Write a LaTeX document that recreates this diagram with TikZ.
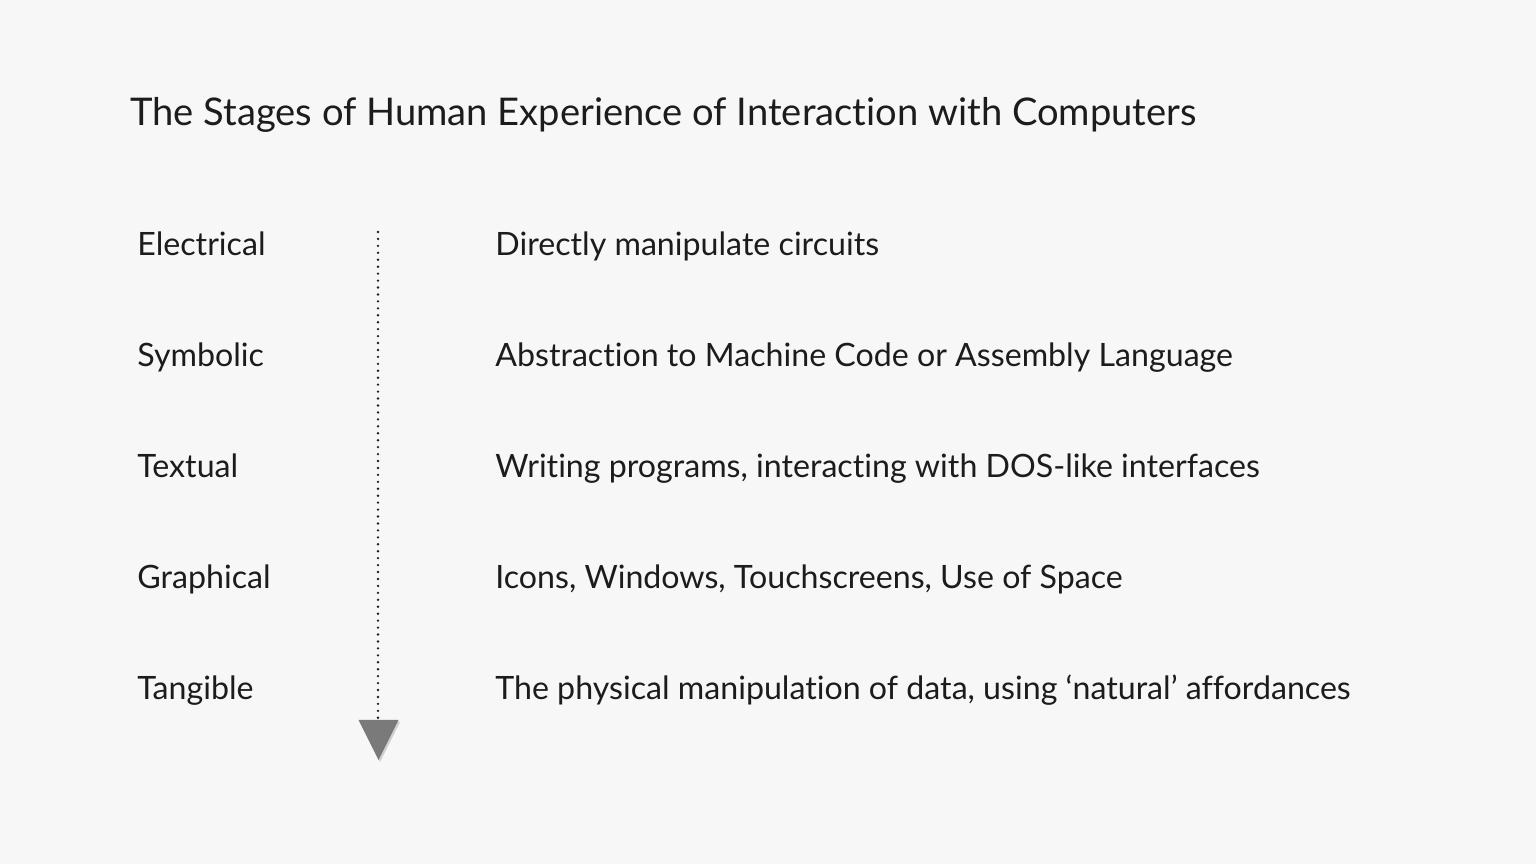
\documentclass[tikz,border=0pt]{standalone}
\usepackage{fontspec}
\setmainfont{Lato}[Ligatures={NoCommon}]
\usepackage{xcolor}
\definecolor{slidebg}{RGB}{247,247,247}
\definecolor{inkdark}{RGB}{28,28,28}
\definecolor{tipgray}{RGB}{122,122,122}
\usetikzlibrary{positioning}

\begin{document}
\begin{tikzpicture}[
  x=0.02cm, y=-0.02cm,
  stage/.style={anchor=base west, inner sep=0pt, font=\fontsize{18.3}{22}\selectfont, text=inkdark},
  note/.style={anchor=base west, inner sep=0pt, font=\fontsize{18.3}{22}\selectfont, text=inkdark},
  timeline/.style={inkdark, line width=1.5pt, line cap=round, dash pattern=on 0pt off 3.95pt},
]
  % Background
  \fill[slidebg] (0,0) rectangle (1536,864);
  \useasboundingbox (0,0) rectangle (1536,864);

  % Title
  \node[anchor=base west, inner sep=0pt, font=\fontsize{21.7}{26}\selectfont, text=inkdark]
    (title) at (130,126) {The Stages of Human Experience of Interaction with Computers};

  % Stages
  \node[stage] (electrical) at (137,256) {Electrical};
  \node[stage] (symbolic)   at (137,367) {Symbolic};
  \node[stage] (textual)    at (137,478) {Textual};
  \node[stage] (graphical)  at (137,589) {Graphical};
  \node[stage] (tangible)   at (137,700) {Tangible};

  % Descriptions
  \node[note] (circuits) at (495,256) {Directly manipulate circuits};
  \node[note] (machine)  at (495,367) {Abstraction to Machine Code or Assembly Language};
  \node[note] (programs) at (495,478) {Writing programs, interacting with DOS-like interfaces};
  \node[note] (icons)    at (495,589) {Icons, Windows, Touchscreens, Use of Space};
  \node[note] (physical) at (495,700) {The physical manipulation of data, using ‘natural’ affordances};

  % Timeline
  \coordinate (start) at (378,232);
  \coordinate (tipbase) at (378,720);
  \draw[timeline] (start) -- (tipbase);
  \fill[black!18] (360,722) -- (400,722) -- (380,762) -- cycle;
  \fill[tipgray] (358.5,720) -- (398.5,720) -- (378.5,760) -- cycle;
\end{tikzpicture}
\end{document}
